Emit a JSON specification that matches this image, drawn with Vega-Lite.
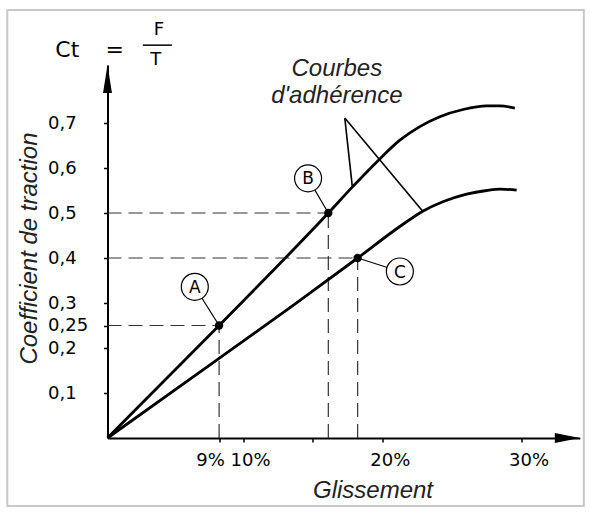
{
  "$schema": "https://vega.github.io/schema/vega-lite/v6.json",
  "width": 473,
  "height": 373,
  "autosize": {"type": "none"},
  "padding": {"left": 107.5, "top": 65, "right": 9.5, "bottom": 75},
  "background": "white",
  "config": {
    "view": {"stroke": null},
    "font": "DejaVu Sans",
    "axis": {
      "grid": false,
      "domainColor": "black",
      "domainWidth": 2,
      "tickColor": "black",
      "tickWidth": 1.5,
      "tickSize": 4,
      "labelColor": "black",
      "labelFont": "DejaVu Sans",
      "labelFontSize": 18,
      "labelOverlap": false,
      "labelBound": false,
      "labelFlush": false,
      "titleFont": "Liberation Sans",
      "titleFontStyle": "italic",
      "titleFontWeight": "normal",
      "titleFontSize": 24,
      "titleColor": "#222"
    }
  },
  "data": {
    "values": [
      {"k": "frame", "x": -8.08, "x2": 34.49, "y": 0.951, "y2": -0.151},
      {"k": "dash", "x": 0, "x2": 9, "y": 0.25, "y2": 0.25},
      {"k": "dash", "x": 9, "x2": 9, "y": 0, "y2": 0.25},
      {"k": "dash", "x": 0, "x2": 16.1, "y": 0.5, "y2": 0.5},
      {"k": "dash", "x": 16.1, "x2": 16.1, "y": 0, "y2": 0.5},
      {"k": "dash", "x": 0, "x2": 18.2, "y": 0.4, "y2": 0.4},
      {"k": "dash", "x": 18.2, "x2": 18.2, "y": 0, "y2": 0.4},
      {"k": "curve", "c": "haut", "o": 0, "x": 0, "y": 0},
      {"k": "curve", "c": "haut", "o": 1, "x": 9, "y": 0.25},
      {"k": "curve", "c": "haut", "o": 2, "x": 16.1, "y": 0.5},
      {"k": "curve", "c": "haut", "o": 3, "x": 17.83, "y": 0.558},
      {"k": "curve", "c": "haut", "o": 4, "x": 19.71, "y": 0.618},
      {"k": "curve", "c": "haut", "o": 5, "x": 21.23, "y": 0.662},
      {"k": "curve", "c": "haut", "o": 6, "x": 22.67, "y": 0.692},
      {"k": "curve", "c": "haut", "o": 7, "x": 24.11, "y": 0.714},
      {"k": "curve", "c": "haut", "o": 8, "x": 25.79, "y": 0.73},
      {"k": "curve", "c": "haut", "o": 9, "x": 27.48, "y": 0.738},
      {"k": "curve", "c": "haut", "o": 10, "x": 28.44, "y": 0.738},
      {"k": "curve", "c": "haut", "o": 11, "x": 29.52, "y": 0.733},
      {"k": "curve", "c": "bas", "o": 0, "x": 0, "y": 0},
      {"k": "curve", "c": "bas", "o": 1, "x": 9, "y": 0.177},
      {"k": "curve", "c": "bas", "o": 2, "x": 14, "y": 0.304},
      {"k": "curve", "c": "bas", "o": 3, "x": 18.2, "y": 0.4},
      {"k": "curve", "c": "bas", "o": 4, "x": 21.23, "y": 0.47},
      {"k": "curve", "c": "bas", "o": 5, "x": 22.88, "y": 0.504},
      {"k": "curve", "c": "bas", "o": 6, "x": 24.33, "y": 0.525},
      {"k": "curve", "c": "bas", "o": 7, "x": 26.04, "y": 0.542},
      {"k": "curve", "c": "bas", "o": 8, "x": 27.49, "y": 0.55},
      {"k": "curve", "c": "bas", "o": 9, "x": 28.45, "y": 0.553},
      {"k": "curve", "c": "bas", "o": 10, "x": 29.65, "y": 0.551},
      {"k": "lead", "x": 7.04, "y": 0.336, "x2": 9, "y2": 0.25},
      {"k": "lead", "x": 14.65, "y": 0.577, "x2": 16.1, "y2": 0.5},
      {"k": "lead", "x": 21.23, "y": 0.37, "x2": 18.2, "y2": 0.4},
      {"k": "ptr", "x": 17.28, "y": 0.711, "x2": 17.82, "y2": 0.558},
      {"k": "ptr", "x": 17.28, "y": 0.711, "x2": 22.88, "y2": 0.504},
      {"k": "dot", "x": 9, "y": 0.25, "t": "A"},
      {"k": "dot", "x": 16.1, "y": 0.5, "t": "B"},
      {"k": "dot", "x": 18.2, "y": 0.4, "t": "C"},
      {"k": "badge", "x": 7.04, "y": 0.336, "t": "A"},
      {"k": "badge", "x": 14.65, "y": 0.577, "t": "B"},
      {"k": "badge", "x": 21.23, "y": 0.37, "t": "C"},
      {"k": "arrowy", "x": 0, "y": 0.8289},
      {"k": "arrowx", "x": 34.2, "y": 0},
      {"k": "note", "x": 16.71, "y": 0.82, "t": "Courbes"},
      {"k": "note", "x": 16.71, "y": 0.76, "t": "d'adhérence"},
      {"k": "ct", "x": -3.24, "y": 0.862, "t": "Ct"},
      {"k": "ct", "x": 0.59, "y": 0.862, "t": "="},
      {"k": "frac", "x": 4.15, "y": 0.907, "t": "F"},
      {"k": "frac", "x": 3.9, "y": 0.84, "t": "T"},
      {"k": "bar", "x": 2.85, "x2": 5.19, "y": 0.873, "y2": 0.873}
    ]
  },
  "encoding": {
    "x": {
      "field": "x",
      "type": "quantitative",
      "scale": {"domain": [0, 9, 10, 20, 30, 34.2], "range": [0, 111.6, 135.6, 275.3, 414, 472.3], "nice": false, "zero": false},
      "axis": {
        "values": [9, 10, 15, 20, 30],
        "labelExpr": "datum.value == 15 ? '' : datum.value + '%'",
        "labelPadding": 9,
        "labelOffset": {"condition": {"test": "datum.value == 9", "value": -9}, "value": 7},
        "title": "Glissement",
        "titleX": 265,
        "titleY": 52,
        "titleAlign": "center",
        "titleBaseline": "middle"
      }
    },
    "y": {
      "field": "y",
      "type": "quantitative",
      "scale": {"domain": [0, 0.8289], "nice": false, "zero": false},
      "axis": {
        "values": [0.1, 0.2, 0.25, 0.3, 0.4, 0.5, 0.6, 0.7],
        "labelExpr": "replace('' + datum.value, '.', ',')",
        "labelAlign": "left",
        "labelBaseline": "middle",
        "labelPadding": 56,
        "title": "Coefficient de traction",
        "titleX": -78,
        "titleY": 183,
        "titleAngle": -90,
        "titleAlign": "center",
        "titleBaseline": "middle"
      }
    }
  },
  "layer": [
    {
      "transform": [{"filter": "datum.k == 'frame'"}],
      "mark": {"type": "rect", "fillOpacity": 0, "stroke": "#c8c8c8", "strokeWidth": 2},
      "encoding": {"x2": {"field": "x2"}, "y2": {"field": "y2"}}
    },
    {
      "transform": [{"filter": "datum.k == 'dash'"}],
      "mark": {"type": "rule", "strokeDash": [14, 7], "strokeWidth": 1.2, "color": "#333"},
      "encoding": {"x2": {"field": "x2"}, "y2": {"field": "y2"}}
    },
    {
      "transform": [{"filter": "datum.k == 'curve'"}],
      "mark": {"type": "line", "interpolate": "monotone", "strokeWidth": 2.8, "color": "black"},
      "encoding": {"detail": {"field": "c"}, "order": {"field": "o", "type": "quantitative"}}
    },
    {
      "transform": [{"filter": "datum.k == 'lead'"}],
      "mark": {"type": "rule", "strokeWidth": 1.2, "color": "black"},
      "encoding": {"x2": {"field": "x2"}, "y2": {"field": "y2"}}
    },
    {
      "transform": [{"filter": "datum.k == 'ptr'"}],
      "mark": {"type": "rule", "strokeWidth": 1.6, "color": "black"},
      "encoding": {"x2": {"field": "x2"}, "y2": {"field": "y2"}}
    },
    {
      "transform": [{"filter": "datum.k == 'bar'"}],
      "mark": {"type": "rule", "strokeWidth": 1.5, "color": "black"},
      "encoding": {"x2": {"field": "x2"}, "y2": {"field": "y2"}}
    },
    {
      "transform": [{"filter": "datum.k == 'dot'"}],
      "mark": {"type": "point", "shape": "circle", "filled": true, "size": 70, "color": "black", "opacity": 1}
    },
    {
      "transform": [{"filter": "datum.k == 'badge'"}],
      "mark": {"type": "point", "shape": "circle", "filled": true, "fill": "white", "stroke": "black", "strokeWidth": 1.2, "size": 729, "opacity": 1}
    },
    {
      "transform": [{"filter": "datum.k == 'badge'"}],
      "mark": {"type": "text", "font": "DejaVu Sans", "fontSize": 17, "align": "center", "baseline": "middle", "color": "black", "dy": 1},
      "encoding": {"text": {"field": "t"}}
    },
    {
      "transform": [{"filter": "datum.k == 'arrowy'"}],
      "mark": {"type": "point", "shape": "M0,0L0.32,2L-0.32,2Z", "filled": true, "size": 784, "color": "black", "opacity": 1}
    },
    {
      "transform": [{"filter": "datum.k == 'arrowx'"}],
      "mark": {"type": "point", "shape": "M0,0L-2,-0.4L-2,0.4Z", "filled": true, "size": 625, "color": "black", "opacity": 1}
    },
    {
      "transform": [{"filter": "datum.k == 'note'"}],
      "mark": {"type": "text", "font": "Liberation Sans", "fontStyle": "italic", "fontSize": 24, "align": "center", "baseline": "middle", "color": "#222"},
      "encoding": {"text": {"field": "t"}}
    },
    {
      "transform": [{"filter": "datum.k == 'ct'"}],
      "mark": {"type": "text", "font": "DejaVu Sans", "fontSize": 22, "align": "center", "baseline": "middle", "color": "black"},
      "encoding": {"text": {"field": "t"}}
    },
    {
      "transform": [{"filter": "datum.k == 'frac'"}],
      "mark": {"type": "text", "font": "DejaVu Sans", "fontSize": 18, "align": "center", "baseline": "middle", "color": "black"},
      "encoding": {"text": {"field": "t"}}
    }
  ]
}
